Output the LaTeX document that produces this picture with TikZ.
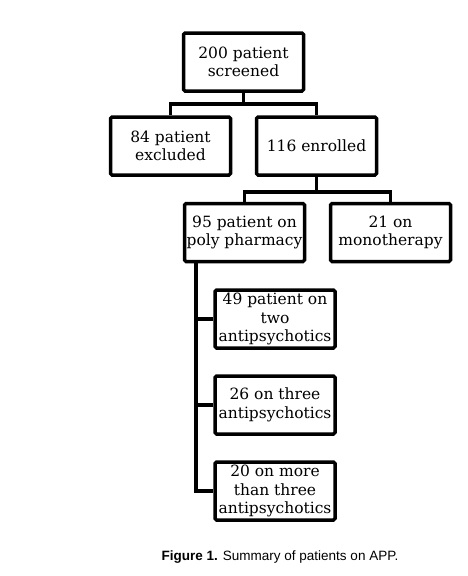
\documentclass[tikz,border=0pt]{standalone}
\usepackage{fontspec}
\setmainfont{DejaVu Serif}
\newfontfamily\capfont{Liberation Sans}
\usepackage{tikz}
\usetikzlibrary{positioning,calc}
\tikzstyle{link} = [line width=3.5pt]

\begin{document}
\begin{tikzpicture}[x=1pt,y=-1pt,
	box/.style={rectangle, draw, line width=3.5pt, rounded corners=1.5pt, minimum width=120pt, minimum height=58pt, align=center, inner sep=0.5pt, font=\fontsize{15.5}{18.5}\selectfont}]
	\useasboundingbox (0,0) rectangle (467,576);
	
	% BOXES
	
	\node [box] (screened) at (243.5,62) {200 patient\\screened};
	\node [box] (excluded) at (170.5,146) {84 patient\\excluded};
	\node [box] (enrolled) at (316.5,146) {116 enrolled};
	\node [box] (poly) at (244.5,232.5) {95 patient on\\poly pharmacy};
	\node [box] (mono) at (390.5,232.5) {21 on\\monotherapy};
	\node [box] (two) at (275,319) {49 patient on\\two\\antipsychotics};
	\node [box] (three) at (275,405) {26 on three\\antipsychotics};
	\node [box] (more) at (275,491) {20 on more\\than three\\antipsychotics};
	
	% LINKS
	
	\draw [link] (screened.south) -- ++(0,11) coordinate (split1);
	\draw [link] (excluded.north) |- (split1) -| (enrolled.north);
	\draw [link] (enrolled.south) -- ++(0,15) coordinate (split2);
	\draw [link] (poly.north) |- (split2) -| (mono.north);
	\coordinate (trunk) at ($(poly.south west)+(13,0)$);
	\draw [link] (trunk) |- (two.west);
	\draw [link] (trunk) |- (three.west);
	\draw [link] (trunk) |- (more.west);
	
	% CAPTION
	
	\node [font=\capfont\fontsize{13.5}{16}\selectfont] (caption) at (280,557) {\textbf{Figure 1.} Summary of patients on APP.};
	
\end{tikzpicture}
\end{document}
